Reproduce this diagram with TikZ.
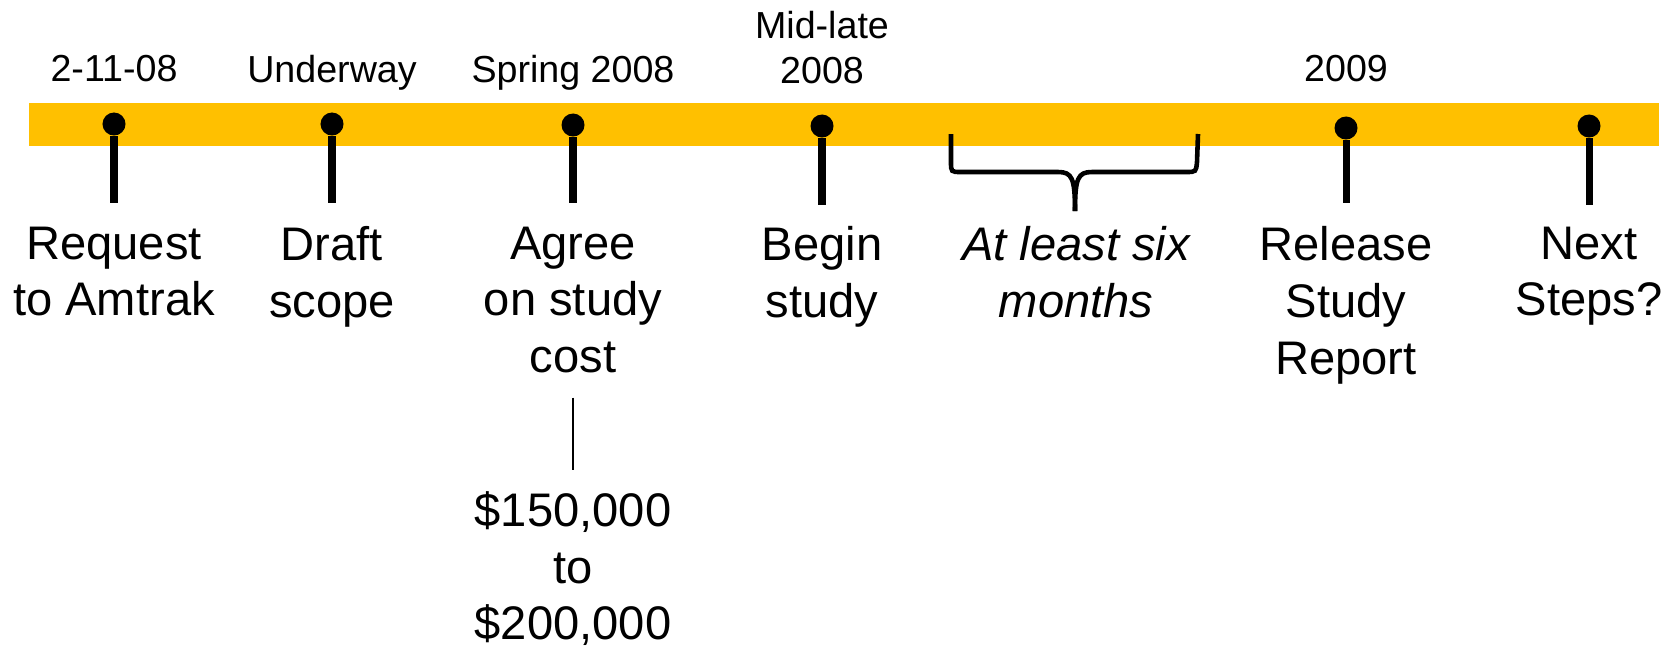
\documentclass[tikz,border=0pt]{standalone}
\usepackage{fontspec}
\setmainfont{Liberation Sans}
\definecolor{bandgold}{HTML}{FFC000}
\newcommand{\datesize}{\fontsize{10.7}{12.8}\selectfont}
\newcommand{\stepsize}{\fontsize{13.4}{16.1}\selectfont}

\begin{document}
\begin{tikzpicture}[x=0.01cm,y=-0.01cm,
	milestone/.style={shape=circle,fill=black,inner sep=0pt,minimum size=0.23cm},
	stemline/.style={line width=2pt},
	costline/.style={line width=0.6pt,shorten <=0.24cm,shorten >=0.21cm},
	datelbl/.style={anchor=north,inner sep=0pt,align=center,font=\datesize},
	steplbl/.style={anchor=north,inner sep=0pt,align=center,font=\stepsize}]
	
	\useasboundingbox (0,0) rectangle (1676,648);
	\fill[bandgold] (29,103) rectangle (1659,146);
	
	\node[milestone] (m1) at (114, 124)  {};
	\node[milestone] (m2) at (332, 124)  {};
	\node[milestone] (m3) at (573, 125)  {};
	\node[milestone] (m4) at (822, 126)  {};
	\node[milestone] (m5) at (1346, 128) {};
	\node[milestone] (m6) at (1589, 126) {};
	
	\coordinate (s1) at (114, 203);
	\coordinate (s2) at (332, 203);
	\coordinate (s3) at (573, 203);
	\coordinate (s4) at (822, 205);
	\coordinate (s5) at (1346, 203);
	\coordinate (s6) at (1589, 205);
	
	\path[stemline] (m1) edge (s1);
	\path[stemline] (m2) edge (s2);
	\path[stemline] (m3) edge (s3);
	\path[stemline] (m4) edge (s4);
	\path[stemline] (m5) edge (s5);
	\path[stemline] (m6) edge (s6);
	
	\node[datelbl] (d1) at (114, 55)  {2-11-08};
	\node[datelbl] (d2) at (332, 55)  {Underway};
	\node[datelbl] (d3) at (573, 55)  {Spring 2008};
	\node[datelbl] (d4) at (822, 11)  {Mid-late\\2008};
	\node[datelbl] (d5) at (1346, 55) {2009};
	
	\node[steplbl] (request) at (114, 226)  {Request\\to Amtrak};
	\node[steplbl] (draft)   at (332, 226)  {Draft\\scope};
	\node[steplbl] (agree)   at (573, 226)  {Agree\\on study\\cost};
	\node[steplbl] (begin)   at (822, 226)  {Begin\\study};
	\node[steplbl] (wait)    at (1076, 226) {\itshape At least six\\\itshape months};
	\node[steplbl] (release) at (1346, 226) {Release\\Study\\Report};
	\node[steplbl] (next)    at (1589, 226) {Next\\Steps?};
	\node[steplbl] (money)   at (573, 491)  {\$150,000\\to\\\$200,000};
	
	\draw[costline] (agree.south) -- (money.north);
	
	% brace over the study period
	\draw[line width=1.3pt] (951,134) -- (951,162) .. controls (951,172) .. (961,172) -- (1058,172)
		.. controls (1072,172) and (1075,178) .. (1075,211);
	\draw[line width=1.3pt] (1198,134) -- (1197,162) .. controls (1196,172) .. (1186,172) -- (1092,172)
		.. controls (1078,172) and (1075,178) .. (1075,211);
	
\end{tikzpicture}
\end{document}
